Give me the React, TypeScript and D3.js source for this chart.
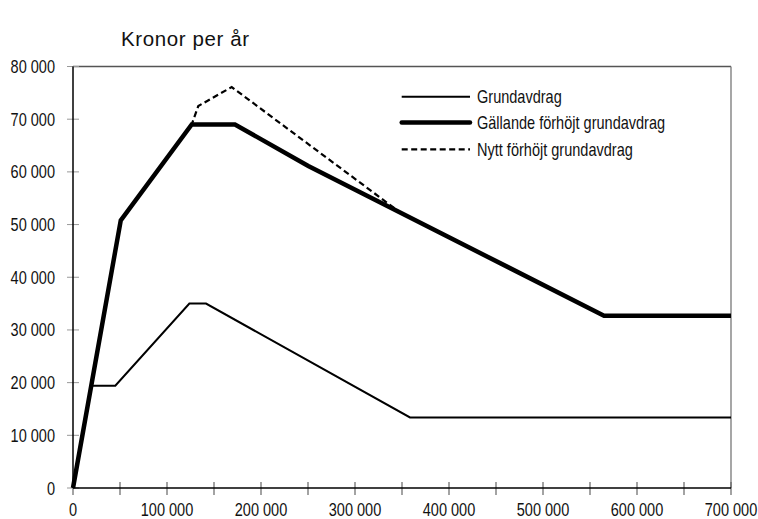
import React from "react";
import * as d3 from "d3";

const xTicks = [0, 50000, 100000, 150000, 200000, 250000, 300000, 350000, 400000, 450000, 500000, 550000, 600000, 650000, 700000];
const xLabels = [0, 100000, 200000, 300000, 400000, 500000, 600000, 700000];
const yTicks = [0, 10000, 20000, 30000, 40000, 50000, 60000, 70000, 80000];

const grundX = [0, 19400, 45000, 123800, 141500, 358500, 700000];
const grundY = [0, 19400, 19400, 35000, 35000, 13400, 13400];

const gallandeX = [0, 50800, 126300, 172300, 250300, 564900, 700000];
const gallandeY = [0, 50800, 69000, 69000, 61100, 32700, 32700];

const nyttX = [0, 50800, 126300, 133300, 168800, 348000, 564900, 700000];
const nyttY = [0, 50800, 69000, 72500, 76100, 52300, 32700, 32700];

const seriesNames = ["Grundavdrag", "Gällande förhöjt grundavdrag", "Nytt förhöjt grundavdrag"];

const W = 758;
const H = 519;
const FONT = "'Liberation Sans', Arial, sans-serif";
const SX = 0.83;

const fmt = (v: number) => String(v).replace(/\B(?=(\d{3})+(?!\d))/g, " ");

function NText(props: {
  x: number;
  y: number;
  anchor?: "start" | "middle" | "end";
  baseline?: string;
  size?: number;
  children: React.ReactNode;
}) {
  return (
    <g transform={`translate(${props.x},${props.y}) scale(${SX},1)`}>
      <text
        x={0}
        y={0}
        textAnchor={props.anchor || "start"}
        dominantBaseline={props.baseline as any}
        fontFamily={FONT}
        fontSize={props.size || 17.5}
        fill="#111"
      >
        {props.children}
      </text>
    </g>
  );
}

export default function App() {
  const x = d3.scaleLinear().domain([0, 700000]).range([73, 731]);
  const y = d3.scaleLinear().domain([0, 80000]).range([488, 66.5]);
  const line = d3
    .line<[number, number]>()
    .x((d) => x(d[0]))
    .y((d) => y(d[1]));
  const pts = (xs: number[], ys: number[]) => xs.map((v, i) => [v, ys[i]] as [number, number]);

  const legendY = [96.7, 122.5, 149.3];
  const legendStyles = [
    { w: 2, dash: undefined as string | undefined },
    { w: 4.5, dash: undefined as string | undefined },
    { w: 2.2, dash: "6,3.5" },
  ];

  return (
    <svg width={W} height={H} style={{ position: "absolute", left: 0, top: 0, background: "#fff" }}>
      <rect x={0} y={0} width={W} height={H} fill="#fff" />
      <text x={121} y={46} fontFamily={FONT} fontSize={20.5} letterSpacing={0.6} fill="#111">
        Kronor per år
      </text>

      {/* frame */}
      <line x1={73} x2={731} y1={y(80000)} y2={y(80000)} stroke="#555" strokeWidth={1.3} />
      <line x1={731} x2={731} y1={y(80000)} y2={488} stroke="#777" strokeWidth={1.3} />

      {/* y ticks */}
      {yTicks.map((t) => (
        <g key={"y" + t}>
          <line x1={67} x2={79} y1={y(t)} y2={y(t)} stroke="#999" strokeWidth={1} />
          <NText x={55} y={y(t)} anchor="end" baseline="central">
            {fmt(t)}
          </NText>
        </g>
      ))}

      {/* x ticks */}
      {xTicks.map((t) => (
        <line key={"x" + t} x1={x(t)} x2={x(t)} y1={482} y2={495} stroke="#666" strokeWidth={1.2} />
      ))}
      {xLabels.map((t) => (
        <NText key={"xl" + t} x={x(t)} y={516} anchor="middle">
          {fmt(t)}
        </NText>
      ))}

      {/* axes */}
      <line x1={73} x2={73} y1={y(80000)} y2={488} stroke="#000" strokeWidth={1.5} />
      <line x1={73} x2={731} y1={488} y2={488} stroke="#000" strokeWidth={1.5} />

      {/* series */}
      <path d={line(pts(nyttX, nyttY)) || ""} fill="none" stroke="#000" strokeWidth={2.2} strokeDasharray="6,3.5" />
      <path d={line(pts(gallandeX, gallandeY)) || ""} fill="none" stroke="#000" strokeWidth={4.5} strokeLinejoin="miter" />
      <path d={line(pts(grundX, grundY)) || ""} fill="none" stroke="#000" strokeWidth={2} />

      {/* legend */}
      {seriesNames.map((n, i) => (
        <g key={n}>
          <line
            x1={401.7}
            x2={470}
            y1={legendY[i]}
            y2={legendY[i]}
            stroke="#000"
            strokeWidth={legendStyles[i].w}
            strokeDasharray={legendStyles[i].dash}
            strokeLinecap={i === 1 ? "round" : "butt"}
          />
          <NText x={477} y={legendY[i]} baseline="central">
            {n}
          </NText>
        </g>
      ))}
    </svg>
  );
}
